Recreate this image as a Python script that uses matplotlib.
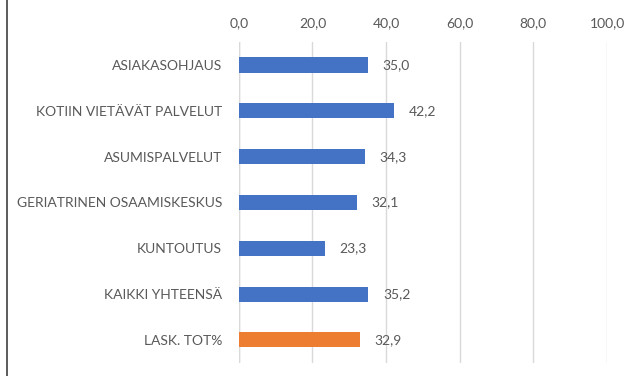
import matplotlib.pyplot as plt
from matplotlib.lines import Line2D

# kategoriat ja arvot (%)
categories = ["ASIAKASOHJAUS", "KOTIIN VIETÄVÄT PALVELUT", "ASUMISPALVELUT",
              "GERIATRINEN OSAAMISKESKUS", "KUNTOUTUS", "KAIKKI YHTEENSÄ",
              "LASK. TOT%"]
values = [35.0, 42.2, 34.3, 32.1, 23.3, 35.2, 32.9]
bar_colors = ["#4472C4"] * 6 + ["#ED7D31"]
ticks = [0, 20, 40, 60, 80, 100]

plt.rcParams['font.family'] = ['Lato', 'DejaVu Sans']
text_color = "#595959"

fig = plt.figure(figsize=(6.42, 3.76), dpi=100)
ax = fig.add_axes([0.372, 0.035, 0.5735, 0.853])

y = range(len(categories))
ax.barh(y, values, height=0.33, color=bar_colors, zorder=3)

# arvot palkkien perään, suomalainen desimaalipilkku
for i, v in enumerate(values):
    ax.text(v + 4.0, i, f"{v:.1f}".replace(".", ","), va="center", ha="left",
            fontsize=10, color=text_color)

ax.set_xlim(0, 100)
ax.set_ylim(len(categories) - 0.5, -0.5)
ax.set_xticks(ticks)
ax.set_xticklabels([f"{t:.1f}".replace(".", ",") for t in ticks])
ax.xaxis.tick_top()
ax.set_yticks(list(y))
ax.set_yticklabels(categories)
ax.tick_params(axis="x", length=0, pad=9.5, labelsize=10, labelcolor=text_color)
ax.tick_params(axis="y", length=0, pad=12, labelsize=10, labelcolor=text_color)
ax.grid(axis="x", color="#D9D9D9", linewidth=1, zorder=0)
for s in ax.spines.values():
    s.set_visible(False)
ax.axvline(0, color="#D9D9D9", linewidth=1, zorder=1)

# reunaviiva vasemmalla
fig.add_artist(Line2D([7 / 642, 7 / 642], [0, 1], color="#404040", linewidth=1.2))

fig.savefig("out.png", dpi=100)
